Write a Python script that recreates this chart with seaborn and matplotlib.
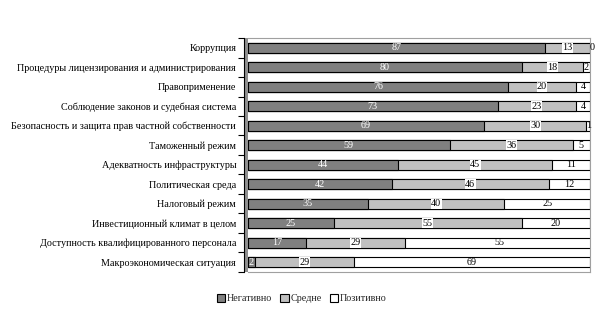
import matplotlib
matplotlib.use("Agg")
import matplotlib.pyplot as plt
import seaborn as sns
import pandas as pd
import numpy as np
from matplotlib.patches import Rectangle, Patch

categories = [
    "Коррупция",
    "Процедуры лицензирования и администрирования",
    "Правоприменение",
    "Соблюдение законов и судебная система",
    "Безопасность и защита прав частной собственности",
    "Таможенный режим",
    "Адекватность инфраструктуры",
    "Политическая среда",
    "Налоговый режим",
    "Инвестиционный климат в целом",
    "Доступность квалифицированного персонала",
    "Макроэкономическая ситуация",
]
negative = [87, 80, 76, 73, 69, 59, 44, 42, 35, 25, 17, 2]
medium = [13, 18, 20, 23, 30, 36, 45, 46, 40, 55, 29, 29]
positive = [0, 2, 4, 4, 1, 5, 11, 12, 25, 20, 55, 69]
series_names = ["Негативно", "Средне", "Позитивно"]

sns.set_theme(style="white")
plt.rcParams['font.family'] = ['Liberation Serif', 'DejaVu Serif']

df = pd.DataFrame({"cat": categories, "neg": negative, "mid": medium, "pos": positive})
df["c2"] = df["neg"] + df["mid"]
df["c3"] = df["c2"] + df["pos"]

fig = plt.figure(figsize=(6.05, 3.28), dpi=100)
ax = fig.add_axes([0.410, 0.171, 0.565, 0.713])

colors = ["#808080", "#c0c0c0", "#ffffff"]
kw = dict(y="cat", orient="h", width=0.5, edgecolor="black", linewidth=0.8, ax=ax, order=categories)
sns.barplot(data=df, x="c3", color=colors[2], saturation=1, **kw)
sns.barplot(data=df, x="c2", color=colors[1], saturation=1, **kw)
sns.barplot(data=df, x="neg", color=colors[0], saturation=1, **kw)

ax.set_xlim(0, 100)
ax.set_ylim(len(categories) - 0.5, -0.5)
ax.set_xlabel("")
ax.set_ylabel("")
ax.set_xticks([])
ax.tick_params(axis="y", which="major", length=0, labelsize=7.3, pad=5.5, colors="black")
ax.set_yticks(list(np.arange(-0.5, len(categories), 1.0)), minor=True)
ax.tick_params(axis="y", which="minor", length=4, width=0.8, color="black", left=True)

for s in ["top", "right", "bottom"]:
    ax.spines[s].set_color("#a0a0a0")
    ax.spines[s].set_linewidth(0.8)
ax.spines["left"].set_position(("outward", 3))
ax.spines["left"].set_color("black")
ax.spines["left"].set_linewidth(0.8)
ax.add_patch(Rectangle((-0.0085, 0), 0.0085, 1, transform=ax.transAxes,
                       facecolor="#909090", edgecolor="none", clip_on=False))

for i in range(len(categories)):
    n, m, p = negative[i], medium[i], positive[i]
    ax.text(n / 2, i, str(n), ha="center", va="center", fontsize=7.3, color="white")
    ax.text(n + m / 2, i, str(m), ha="center", va="center", fontsize=7.3, color="black",
            bbox=dict(facecolor="white", edgecolor="none", pad=0.3))
    ax.text(n + m + max(p, 1.5) / 2, i, str(p), ha="center", va="center", fontsize=7.3, color="black")

handles = [Patch(facecolor=c, edgecolor="black", linewidth=0.8) for c in colors]
fig.legend(handles, series_names, loc="center", bbox_to_anchor=(0.499, 0.09), ncol=3,
           frameon=False, fontsize=7.3, handlelength=0.8, handleheight=0.8,
           handletextpad=0.2, columnspacing=0.8)

fig.savefig("out.png", dpi=100)
